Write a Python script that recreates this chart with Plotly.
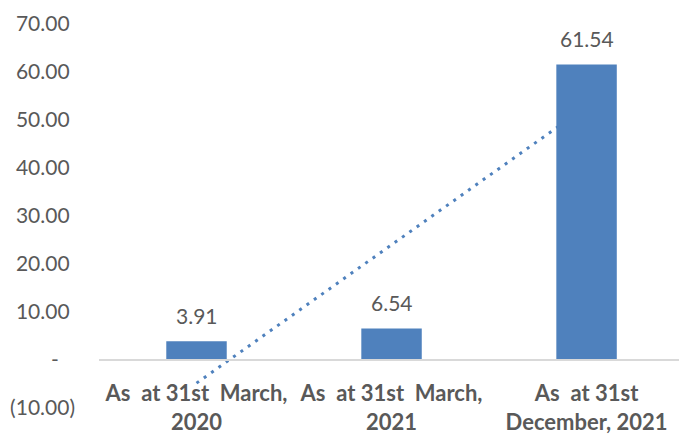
import numpy as np
import plotly.graph_objects as go

categories = ["As\u00a0 at 31st\u00a0 March,<br>2020",
              "As\u00a0 at 31st\u00a0 March,<br>2021",
              "As\u00a0 at 31st<br>December, 2021"]
values = [3.91, 6.54, 61.54]
value_labels = ["3.91", "6.54", "61.54"]
y_tickvals = [-10, 0, 10, 20, 30, 40, 50, 60, 70]
y_ticktext = ["(10.00)", "-\u00a0\u00a0\u00a0", "10.00\u00a0", "20.00\u00a0", "30.00\u00a0",
              "40.00\u00a0", "50.00\u00a0", "60.00\u00a0", "70.00\u00a0"]

BLUE = "#4f81bd"
TXT = "#595959"
FONT = "Lato, 'Liberation Sans', sans-serif"
y_range = [-10, 70]
x_range = [-0.5, 2.474]

# linear trendline through the series
idx = np.arange(len(values))
slope, intercept = np.polyfit(idx, values, 1)
trend = slope * idx + intercept

fig = go.Figure()
fig.add_trace(go.Scatter(x=categories, y=trend, mode="lines",
                         line=dict(color=BLUE, width=3, dash="3px,6px"),
                         xaxis="x", yaxis="y", hoverinfo="skip", showlegend=False))
fig.add_trace(go.Bar(x=categories, y=values, marker=dict(color=BLUE, line=dict(width=0)),
                     width=0.31, xaxis="x2", yaxis="y2", showlegend=False))

for c, v, t in zip(categories, values, value_labels):
    fig.add_annotation(x=c, y=v, xref="x2", yref="y2", text=t, showarrow=False,
                       yanchor="middle", yshift=26,
                       font=dict(family=FONT, size=21, color=TXT))

zero_pos = (0 - y_range[0]) / (y_range[1] - y_range[0])

fig.update_layout(
    width=679, height=434,
    margin=dict(l=99, r=0, t=24, b=26),
    paper_bgcolor="white", plot_bgcolor="white",
    font=dict(family=FONT, color=TXT),
    xaxis=dict(type="category", range=x_range, anchor="free", position=zero_pos,
               showline=True, linecolor="#d9d9d9", linewidth=1.5, showgrid=False,
               zeroline=False, ticks="", ticklabelstandoff=14,
               tickfont=dict(family=FONT, size=22, color=TXT, weight="bold")),
    yaxis=dict(range=y_range, tickvals=y_tickvals, ticktext=y_ticktext,
               showgrid=False, zeroline=False, showline=False, ticks="",
               ticklabelstandoff=23,
               tickfont=dict(family=FONT, size=21, color=TXT)),
    xaxis2=dict(type="category", overlaying="x", matches="x", visible=False),
    yaxis2=dict(overlaying="y", matches="y", visible=False),
)

fig.write_html("out.html")
